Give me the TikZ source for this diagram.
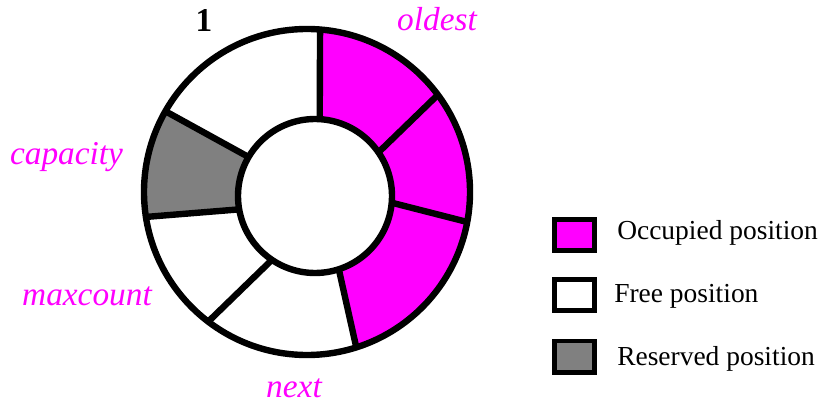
\documentclass[tikz,border=0pt]{standalone}
\usepackage{fontspec}
\setmainfont{Liberation Serif}
\usetikzlibrary{calc}
\definecolor{occ}{HTML}{FF00FF}
\definecolor{res}{HTML}{808080}
\tikzset{
  ring/.style={line width=4.8pt, line join=round},
  lbl/.style={text=occ, font=\fontsize{25}{30}\selectfont\itshape, anchor=base, inner sep=0pt},
  legbox/.style={draw, line width=3.5pt, minimum width=30pt, minimum height=23.5pt, inner sep=0pt},
  legtext/.style={font=\fontsize{20.6}{24}\selectfont, anchor=base west, inner sep=0pt}
}
\newcommand{\ringseg}[5]{%
  \fill[#5] ($(O)+(#1:163)$) arc[start angle=#1, end angle=#2, radius=163]
    -- ($(I)+(#4:77)$) arc[start angle=#4, end angle=#3, radius=77] -- cycle;}
\begin{document}
\begin{tikzpicture}[x=0.75pt, y=0.75pt]
\useasboundingbox (0,0) rectangle (828,404);
\coordinate (O) at (307,212);
\coordinate (I) at (315,208);
% segments (outer start, outer end, inner start, inner end)
\ringseg{85.4}{36.6}{86.5}{34.5}{occ}
\ringseg{36.6}{-10.6}{34.5}{-5}{occ}
\ringseg{-10.6}{-72.4}{-5}{-72}{occ}
\ringseg{-72.4}{-127.3}{-72}{-124}{white}
\ringseg{-127.3}{-171.2}{-124}{-170}{white}
\ringseg{188.8}{150.3}{190}{149.6}{res}
\ringseg{150.3}{85.4}{149.6}{86.5}{white}
% dividers
\foreach \a/\b in {85.4/86.5, 36.6/34.5, -10.6/-5, -72.4/-72, -127.3/-124, 188.8/190, 150.3/149.6}
  \draw[ring] ($(O)+(\a:163)$) -- ($(I)+(\b:77)$);
% circles
\draw[ring] (O) circle[radius=163];
\draw[ring, fill=white] (I) circle[radius=77];
% labels
\node[anchor=base, inner sep=0pt, font=\fontsize{25}{30}\selectfont\bfseries] (one) at (204,372) {1};
\node[lbl] (oldest) at (437,373) {oldest};
\node[lbl] (capacity) at (66.5,239) {capacity};
\node[lbl] (maxcount) at (87,99) {maxcount};
\node[lbl] (next) at (294,6.5) {next};
% legend
\node[legbox, fill=occ] (kocc) at (574.5,169) {};
\node[legbox, fill=white] (kfree) at (574.5,109) {};
\node[legbox, fill=res] (kres) at (574.5,47.5) {};
\node[legtext] (tocc) at (617,165) {Occupied position};
\node[legtext] (tfree) at (614,102) {Free position};
\node[legtext] (tres) at (617,39) {Reserved position};
\end{tikzpicture}
\end{document}
